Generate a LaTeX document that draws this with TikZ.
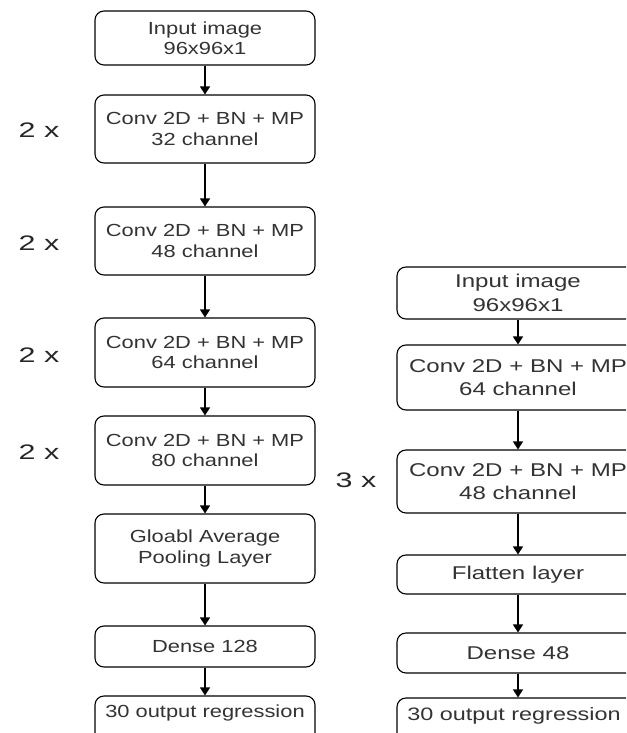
\documentclass[tikz,border=0pt]{standalone}
\usepackage{fontspec}
\usetikzlibrary{arrows.meta}
\newfontfamily\leftfont[FakeStretch=1.25]{Liberation Sans}
\newfontfamily\rightfont[FakeStretch=1.3]{Liberation Sans}
\newfontfamily\labfont[FakeStretch=1.45]{Liberation Sans}
\definecolor{txt}{HTML}{333333}
\tikzset{
  layerbox/.style={draw=black, line width=1.1pt, rounded corners=9pt, fill=white,
    inner sep=0pt, align=center, text=txt},
  lbox/.style={layerbox, minimum width=220pt, font=\leftfont\fontsize{17.5}{20.5}\selectfont},
  rbox/.style={layerbox, minimum width=242pt, font=\rightfont\fontsize{18.5}{23.5}\selectfont},
  flow/.style={draw=black, line width=1.2pt, -{Triangle[width=10pt,length=8pt]}},
  replab/.style={text=black!85, font=\labfont\fontsize{21}{24}\selectfont, inner sep=0pt}
}
\begin{document}
\begin{tikzpicture}[x=1pt,y=-1pt]
\useasboundingbox (0,0) rectangle (626,733);
\clip (0,0) rectangle (626,733);
\fill[white] (0,0) rectangle (626,733);
% left column
\node[lbox, minimum height=54pt] (l1) at (205,38) {Input image\\96x96x1};
\node[lbox, minimum height=68pt] (l2) at (205,129) {Conv 2D + BN + MP\\32 channel};
\node[lbox, minimum height=68pt] (l3) at (205,241) {Conv 2D + BN + MP\\48 channel};
\node[lbox, minimum height=69pt] (l4) at (205,352.5) {Conv 2D + BN + MP\\64 channel};
\node[lbox, minimum height=69pt] (l5) at (205,450.5) {Conv 2D + BN + MP\\80 channel};
\node[lbox, minimum height=69pt] (l6) at (205,548.5) {Gloabl Average\\Pooling Layer};
\node[lbox, minimum height=41pt] (l7) at (205,646.5) {Dense 128};
\node[lbox, minimum height=48pt, text depth=0pt] (l8) at (205,720) {};
\node[text=txt, font=\leftfont\fontsize{17.5}{20.5}\selectfont, inner sep=0pt] (l8t) at (205,713) {30 output regression};
\draw[flow] (l1) -- (l2);
\draw[flow] (l2) -- (l3);
\draw[flow] (l3) -- (l4);
\draw[flow] (l4) -- (l5);
\draw[flow] (l5) -- (l6);
\draw[flow] (l6) -- (l7);
\draw[flow] (l7) -- (l8);
% left labels
\node[replab] (m2) at (39,130) {2 x};
\node[replab] (m3) at (39,243) {2 x};
\node[replab] (m4) at (39,355) {2 x};
\node[replab] (m5) at (39,452) {2 x};
% right column
\node[rbox, minimum height=52pt] (r1) at (518,293) {Input image\\96x96x1};
\node[rbox, minimum height=65pt] (r2) at (518,377.5) {Conv 2D + BN + MP\\64 channel};
\node[rbox, minimum height=63pt] (r3) at (518,481.5) {Conv 2D + BN + MP\\48 channel};
\node[rbox, minimum height=39pt] (r4) at (518,574.5) {Flatten layer};
\node[rbox, minimum height=40pt] (r5) at (518,653) {Dense 48};
\node[rbox, minimum height=48pt] (r6) at (518,722) {};
\node[text=txt, font=\rightfont\fontsize{18}{23}\selectfont, inner sep=0pt] (r6t) at (514,716) {30 output regression};
\draw[flow] (r1) -- (r2);
\draw[flow] (r2) -- (r3);
\draw[flow] (r3) -- (r4);
\draw[flow] (r4) -- (r5);
\draw[flow] (r5) -- (r6);
\node[replab] (m6) at (356,480) {3 x};
\end{tikzpicture}
\end{document}
